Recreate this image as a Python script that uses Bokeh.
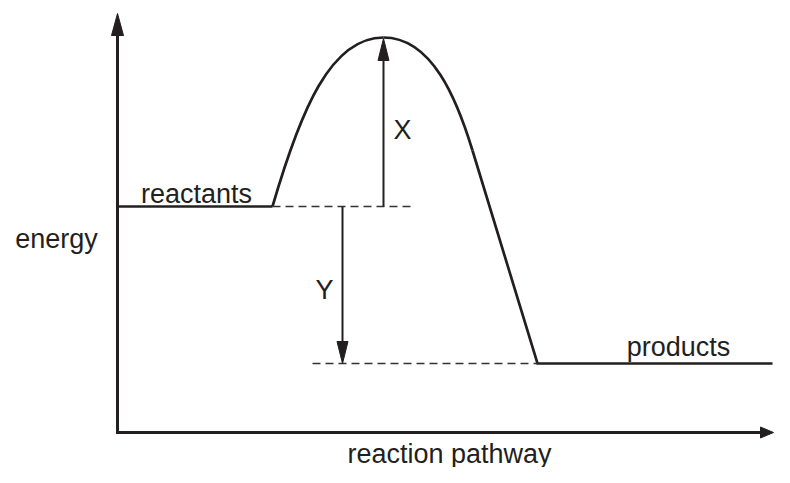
from bokeh.plotting import figure
from bokeh.models import Range1d, Label
from bokeh.embed import file_html
from bokeh.resources import INLINE

# ---- data (reaction pathway position, energy) ----
origin_x, origin_e = 117, 35          # where the two axes meet
energy_axis_top = 454                 # tip of energy axis arrow
pathway_axis_end = 773                # tip of pathway axis arrow

reactant_x = [117, 272]
reactant_energy = 261
product_x = [537, 772]
product_energy = 104
peak_x = 383
peak_energy = 430

# rising side of the barrier (bezier: start, control1, control2, end)
rise_x = [272, 300, 330, 383]
rise_e = [261, 357, 430, 430]
# falling side near the top
fall_x = [383, 432, 456.7, 472]
fall_e = [430, 430, 367, 317]
# straight drop to products
drop_x = [472, 537]
drop_e = [317, 104]

dash_top_x = [272, 412]
dash_bottom_x = [312, 538]
arrow_X_x = 383
arrow_Y_x = 342

label_text = ["energy", "reactants", "products", "X", "Y", "reaction pathway"]
label_x = [56, 196, 678, 402, 324, 449]
label_e = [229, 274, 121, 338, 178, 14]

INK = "#231f20"

p = figure(width=774, height=467, x_range=Range1d(0, 774), y_range=Range1d(0, 467),
           output_backend="svg", toolbar_location=None, min_border=0,
           x_axis_type=None, y_axis_type=None)
p.grid.visible = False
p.outline_line_color = None
p.background_fill_color = "white"
p.border_fill_color = "white"

# axes
head_len, head_half = 22, 6
p.line([origin_x, origin_x, pathway_axis_end - 10],
       [energy_axis_top - 18, origin_e, origin_e],
       line_color=INK, line_width=3, line_join="miter")
p.patch([origin_x, origin_x - head_half, origin_x + head_half],
        [energy_axis_top, energy_axis_top - head_len, energy_axis_top - head_len],
        fill_color=INK, line_color=INK, line_width=1)
p.patch([pathway_axis_end, pathway_axis_end - 13, pathway_axis_end - 13],
        [origin_e, origin_e + 5.5, origin_e - 5.5],
        fill_color=INK, line_color=INK, line_width=1)

# energy profile
p.line(reactant_x, [reactant_energy, reactant_energy], line_color=INK, line_width=2.7)
p.bezier(x0=[rise_x[0]], y0=[rise_e[0]], cx0=[rise_x[1]], cy0=[rise_e[1]],
         cx1=[rise_x[2]], cy1=[rise_e[2]], x1=[rise_x[3]], y1=[rise_e[3]],
         line_color=INK, line_width=2.7)
p.bezier(x0=[fall_x[0]], y0=[fall_e[0]], cx0=[fall_x[1]], cy0=[fall_e[1]],
         cx1=[fall_x[2]], cy1=[fall_e[2]], x1=[fall_x[3]], y1=[fall_e[3]],
         line_color=INK, line_width=2.7)
p.line(drop_x + [product_x[1]], drop_e + [product_energy], line_color=INK,
       line_width=2.7, line_join="miter")

# dashed reference levels
p.line(dash_top_x, [reactant_energy] * 2, line_color="#333333", line_width=1.6, line_dash="8 5")
p.line(dash_bottom_x, [product_energy] * 2, line_color="#333333", line_width=1.6, line_dash="8 5")

# X arrow (activation energy)
a_len, a_half = 22, 5.5
p.line([arrow_X_x, arrow_X_x], [reactant_energy, peak_energy - a_len + 2], line_color=INK, line_width=2)
p.patch([arrow_X_x, arrow_X_x - a_half, arrow_X_x + a_half],
        [peak_energy - 1, peak_energy - 1 - a_len, peak_energy - 1 - a_len],
        fill_color=INK, line_color=INK, line_width=1)
# Y arrow (enthalpy change)
p.line([arrow_Y_x, arrow_Y_x], [reactant_energy, product_energy + a_len - 2], line_color=INK, line_width=2)
p.patch([arrow_Y_x, arrow_Y_x - a_half, arrow_Y_x + a_half],
        [product_energy, product_energy + a_len, product_energy + a_len],
        fill_color=INK, line_color=INK, line_width=1)

for t, x, e in zip(label_text, label_x, label_e):
    p.add_layout(Label(x=x, y=e, text=t, text_font="Liberation Sans", text_font_size="27px",
                       text_color=INK, text_align="center", text_baseline="alphabetic"))

open("out.html", "w").write(file_html(p, INLINE))
